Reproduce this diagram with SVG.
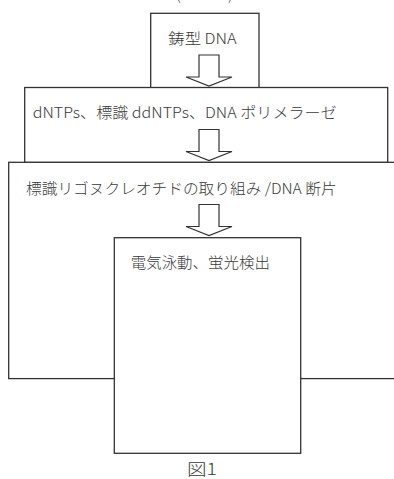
<svg xmlns="http://www.w3.org/2000/svg" width="394" height="479" viewBox="0 0 394 479">
<style>
.box{fill:#fff;stroke:#333;stroke-width:1.3}
.arr{fill:#fff;stroke:#333;stroke-width:1.2;stroke-linejoin:miter}
.t{font-family:"Noto Sans CJK JP","Noto Sans",sans-serif;font-size:15px;font-weight:300;fill:#3a3a3a}
</style>
<defs>
<path id="arrow" class="arr" d="M-10,0 H10 V22 H23 L0,31 L-23,22 H-10 Z"/>
</defs>
<rect width="394" height="479" fill="#fff"/>
<g id="top-label">
<text class="t" x="176" y="0">(</text>
<text class="t" x="228" y="0">)</text>
</g>
<g id="node-template">
<rect class="box" x="150.7" y="13.3" width="108.3" height="80"/>
<text class="t" x="168.3" y="43.5" textLength="68.4" lengthAdjust="spacingAndGlyphs">鋳型 DNA</text>
</g>
<g id="node-reagents">
<rect class="box" x="24.7" y="87.5" width="363" height="75"/>
<text class="t" x="32.7" y="118" textLength="304" lengthAdjust="spacingAndGlyphs">dNTPs、標識 ddNTPs、DNA ポリメラーゼ</text>
</g>
<g id="node-incorporation">
<rect class="box" x="8.7" y="162.3" width="400" height="216.3"/>
<text class="t" x="26" y="193.5" textLength="310.7" lengthAdjust="spacingAndGlyphs">標識リゴヌクレオチドの取り組み /DNA 断片</text>
</g>
<g id="node-electrophoresis">
<rect class="box" x="114.3" y="237.7" width="186.4" height="215.6"/>
<text class="t" x="130.7" y="267.5" textLength="139.3" lengthAdjust="spacingAndGlyphs">電気泳動、蛍光検出</text>
</g>
<g id="connectors">
<use href="#arrow" x="209" y="55"/>
<use href="#arrow" x="209" y="129.5"/>
<use href="#arrow" x="209" y="204.5"/>
</g>
<g id="caption">
<text class="t" x="187" y="474.5" style="font-size:16px" textLength="30" lengthAdjust="spacingAndGlyphs">図1</text>
</g>
</svg>
